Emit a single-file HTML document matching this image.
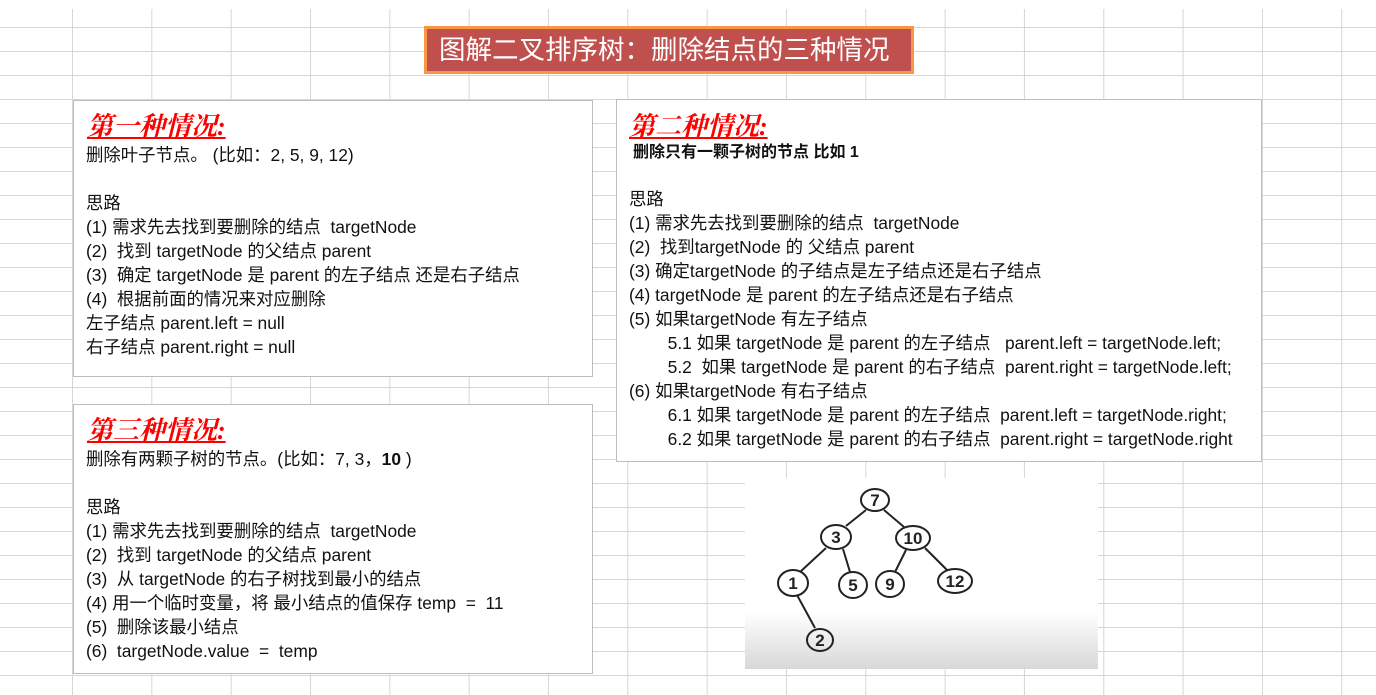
<!DOCTYPE html>
<html><head><meta charset="utf-8"><style>
body{margin:0;width:1376px;height:695px;overflow:hidden;background:#fff;position:relative;font-family:"Liberation Sans","Noto Sans CJK SC",sans-serif;}
.grid{position:absolute;left:0;top:9px;width:1376px;height:686px;
background-image:linear-gradient(to right,#d6d6d6 1px,transparent 1px),linear-gradient(to bottom,#d6d6d6 1px,transparent 1px);
background-size:79.33px 24px,79.33px 24px;background-position:72px 0,0 18px;}
.box{position:absolute;background:#fff;border:1px solid #bdbdbd;box-sizing:border-box;}
.t{position:absolute;font-size:17.4px;line-height:24px;color:#111;white-space:nowrap;}
.h{position:absolute;font-size:26px;color:#f00;font-style:italic;font-weight:bold;text-decoration:underline;white-space:nowrap;font-family:"Liberation Serif","Noto Serif CJK SC",serif;}
</style></head><body>
<div class="grid"></div>
<div style="position:absolute;left:424px;top:26px;width:490px;height:48px;box-sizing:border-box;background:#c0504d;border:3px solid #f79646;color:#fff;font-size:26.5px;line-height:42px;padding-left:12px;white-space:nowrap;">图解二叉排序树：删除结点的三种情况</div>

<div class="box" style="left:73px;top:100px;width:520px;height:277px;"></div>
<div class="h" style="left:87px;top:106px;">第一种情况:</div>
<div class="t" style="left:86px;top:143px;">删除叶子节点。 (比如：2, 5, 9, 12)<br><br>思路<br>(1) 需求先去找到要删除的结点&nbsp; targetNode<br>(2)&nbsp; 找到 targetNode 的父结点 parent<br>(3)&nbsp; 确定 targetNode 是 parent 的左子结点 还是右子结点<br>(4)&nbsp; 根据前面的情况来对应删除<br>左子结点 parent.left = null<br>右子结点 parent.right = null</div>

<div class="box" style="left:616px;top:99px;width:646px;height:363px;"></div>
<div class="h" style="left:629px;top:106px;">第二种情况:</div>
<div class="t" style="left:633px;top:141px;font-weight:bold;font-size:16px;">删除只有一颗子树的节点 比如 1</div>
<div class="t" style="left:629px;top:187px;">思路<br>(1) 需求先去找到要删除的结点&nbsp; targetNode<br>(2)&nbsp; 找到targetNode 的 父结点 parent<br>(3) 确定targetNode 的子结点是左子结点还是右子结点<br>(4) targetNode 是 parent 的左子结点还是右子结点<br>(5) 如果targetNode 有左子结点<br>&nbsp;&nbsp;&nbsp;&nbsp;&nbsp;&nbsp;&nbsp; 5.1 如果 targetNode 是 parent 的左子结点&nbsp;&nbsp; parent.left = targetNode.left;<br>&nbsp;&nbsp;&nbsp;&nbsp;&nbsp;&nbsp;&nbsp; 5.2&nbsp; 如果 targetNode 是 parent 的右子结点&nbsp; parent.right = targetNode.left;<br>(6) 如果targetNode 有右子结点<br>&nbsp;&nbsp;&nbsp;&nbsp;&nbsp;&nbsp;&nbsp; 6.1 如果 targetNode 是 parent 的左子结点&nbsp; parent.left = targetNode.right;<br>&nbsp;&nbsp;&nbsp;&nbsp;&nbsp;&nbsp;&nbsp; 6.2 如果 targetNode 是 parent 的右子结点&nbsp; parent.right = targetNode.right</div>

<div class="box" style="left:73px;top:404px;width:520px;height:270px;"></div>
<div class="h" style="left:87px;top:410px;">第三种情况:</div>
<div class="t" style="left:86px;top:447px;">删除有两颗子树的节点。(比如：7, 3，<b>10</b> )<br><br>思路<br>(1) 需求先去找到要删除的结点&nbsp; targetNode<br>(2)&nbsp; 找到 targetNode 的父结点 parent<br>(3)&nbsp; 从 targetNode 的右子树找到最小的结点<br>(4) 用一个临时变量，将 最小结点的值保存 temp&nbsp; =&nbsp; 11<br>(5)&nbsp; 删除该最小结点<br>(6)&nbsp; targetNode.value&nbsp; =&nbsp; temp</div>

<svg style="position:absolute;left:745px;top:478px;" width="353" height="191" viewBox="745 478 353 191">
<defs><linearGradient id="g" x1="0" y1="0" x2="0" y2="1"><stop offset="0.7" stop-color="#fff"/><stop offset="1" stop-color="#d8d8d8"/></linearGradient></defs>
<rect x="745" y="478" width="353" height="191" fill="url(#g)"/>
<g stroke="#222" stroke-width="2" fill="none">
<line x1="866" y1="510" x2="846" y2="526"/><line x1="884" y1="510" x2="904" y2="527"/>
<line x1="826" y1="548" x2="800" y2="572"/><line x1="843" y1="549" x2="850" y2="572"/>
<line x1="906" y1="550" x2="895" y2="572"/><line x1="925" y1="548" x2="947" y2="570"/>
<line x1="797" y1="595" x2="815" y2="628"/>
<ellipse cx="875" cy="500" rx="14" ry="11"/><ellipse cx="836" cy="537" rx="15" ry="12"/>
<ellipse cx="913" cy="538" rx="17" ry="12"/><ellipse cx="793" cy="583" rx="15" ry="13"/>
<ellipse cx="853" cy="585" rx="14" ry="13"/><ellipse cx="890" cy="584" rx="14" ry="13"/>
<ellipse cx="955" cy="581" rx="17" ry="12"/><ellipse cx="820" cy="640" rx="13" ry="11"/>
</g>
<g font-family="Liberation Sans,sans-serif" font-size="17" font-weight="bold" fill="#222" text-anchor="middle">
<text x="875" y="506">7</text><text x="836" y="543">3</text><text x="913" y="544">10</text>
<text x="793" y="589">1</text><text x="853" y="591">5</text><text x="890" y="590">9</text>
<text x="955" y="587">12</text><text x="820" y="646">2</text>
</g>
</svg>
</body></html>
